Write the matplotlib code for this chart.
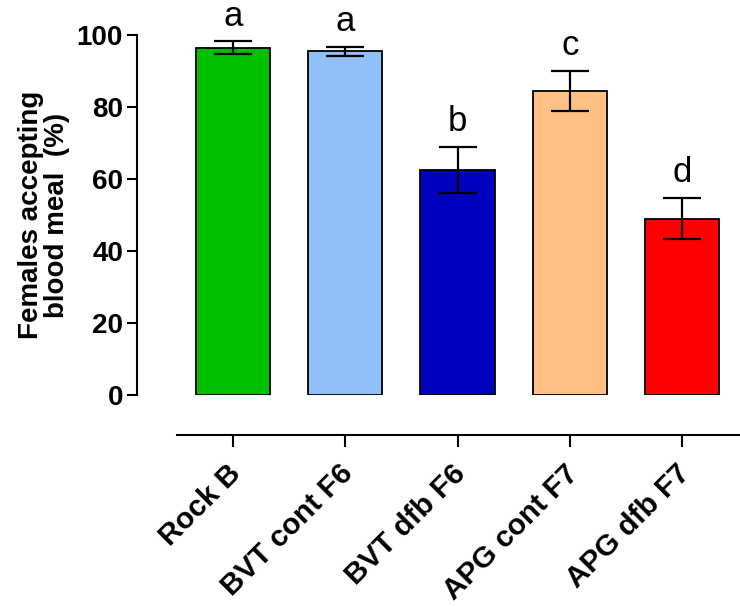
import matplotlib
matplotlib.use("Agg")
import matplotlib.pyplot as plt
from matplotlib.transforms import ScaledTranslation

categories = ["Rock B", "BVT cont F6", "BVT dfb F6", "APG cont F7", "APG dfb F7"]
values = [96.5, 95.5, 62.5, 84.5, 49.0]
errors = [1.8, 1.2, 6.5, 5.6, 5.8]
letters = ["a", "a", "b", "c", "d"]
colors = ["#00BF00", "#91BFF7", "#0000BF", "#FFC083", "#FF0000"]
yticks = [0, 20, 40, 60, 80, 100]

plt.rcParams['font.family'] = ['Liberation Sans', 'DejaVu Sans']

W, H = 740, 607
fig = plt.figure(figsize=(W/100, H/100), dpi=100)
ax_left, ax_right = 137, 740
y0, y100 = 395, 35
ax = fig.add_axes([ax_left/W, (H - y0)/H, (ax_right - ax_left)/W, (y0 - y100)/H])

x = list(range(len(categories)))
spacing = 112.25
c0 = 233
xl = (ax_left - c0)/spacing
xr = (ax_right - c0)/spacing
ax.set_xlim(xl, xr)
ax.set_ylim(0, 100)

ax.bar(x, values, width=0.66, color=colors, edgecolor='black', linewidth=1.3, zorder=2)
ax.errorbar(x, values, yerr=errors, fmt='none', ecolor='black', elinewidth=1.6,
            capsize=14, capthick=1.6, zorder=3)

for xi, v, e, l in zip(x, values, errors, letters):
    ax.text(xi, v + e + 4.3, l, ha='center', va='baseline', fontsize=25, color='black')

for s in ['top', 'right']:
    ax.spines[s].set_visible(False)
ax.spines['left'].set_linewidth(1.5)
ax.spines['bottom'].set_linewidth(1.5)
ax.spines['bottom'].set_position(('outward', 29))
ax.spines['bottom'].set_bounds((177 - c0)/spacing, xr)

ax.set_yticks(yticks)
ax.set_yticklabels([str(t) for t in yticks], fontsize=20, fontweight='bold')
ax.tick_params(axis='y', length=7, width=1.5, pad=3)
ax.set_xticks(x)
ax.set_xticklabels(categories, fontsize=21.3, fontweight='bold', rotation=45,
                   ha='right', va='top', rotation_mode='anchor')
ax.tick_params(axis='x', length=8.5, width=1.5, pad=9)
for lab in ax.get_xticklabels():
    lab.set_transform(lab.get_transform() + ScaledTranslation(-0.06, 0, fig.dpi_scale_trans))

ax.set_ylabel("Females accepting\nblood meal  (%)", fontsize=20, fontweight='bold',
              linespacing=1.0, labelpad=5)

fig.savefig("out.png", dpi=100)
